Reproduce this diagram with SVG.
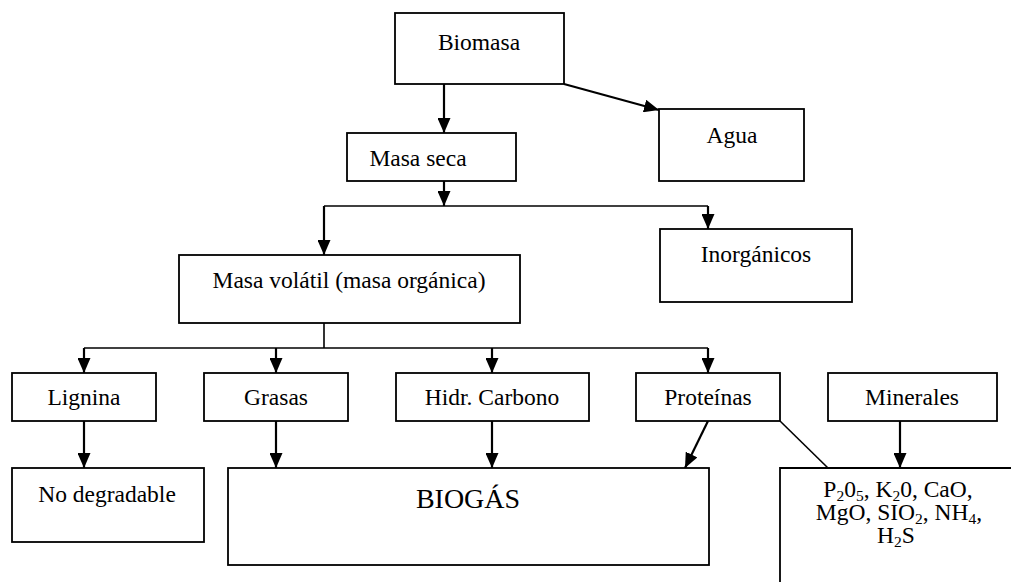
<svg xmlns="http://www.w3.org/2000/svg" width="1011" height="582" viewBox="0 0 1011 582">
<style>
.box{fill:#fff;stroke:#000;stroke-width:1.8}
.t{font-family:"Liberation Serif","Times New Roman",serif;font-size:23.5px;fill:#000;text-anchor:middle}
.big{font-size:28px}
.a{fill:none;stroke:#000;stroke-width:2.2;marker-end:url(#ah)}
.l{fill:none;stroke:#000;stroke-width:1.6}
.sub{font-size:15.5px}
</style>
<defs>
<marker id="ah" markerUnits="userSpaceOnUse" markerWidth="16" markerHeight="13" refX="15" refY="6.5" orient="auto">
<path d="M0,0 L15,6.5 L0,13 z" fill="#000"/>
</marker>
</defs>
<rect width="1011" height="582" fill="#fff"/>
<g id="connectors">
<line class="a" x1="444" y1="84" x2="444" y2="133"/>
<line class="a" x1="564" y1="84" x2="659" y2="110"/>
<line class="a" x1="444" y1="181" x2="444" y2="206"/>
<polyline class="l" points="324,206 708,206"/>
<line class="a" x1="324" y1="206" x2="324" y2="255"/>
<line class="a" x1="708" y1="206" x2="708" y2="229"/>
<line class="l" x1="324" y1="323" x2="324" y2="348"/>
<line class="l" x1="84" y1="348" x2="708" y2="348"/>
<line class="a" x1="84" y1="348" x2="84" y2="373"/>
<line class="a" x1="276" y1="348" x2="276" y2="373"/>
<line class="a" x1="492" y1="348" x2="492" y2="373"/>
<line class="a" x1="708" y1="348" x2="708" y2="373"/>
<line class="a" x1="84" y1="421" x2="84" y2="468"/>
<line class="a" x1="276" y1="421" x2="276" y2="468"/>
<line class="a" x1="492" y1="421" x2="492" y2="468"/>
<line class="a" x1="708" y1="421" x2="685" y2="468"/>
<line class="l" x1="780" y1="421" x2="828" y2="468"/>
<line class="a" x1="900" y1="421" x2="900" y2="468"/>
</g>
<g id="biomasa"><rect class="box" x="395" y="13" width="169" height="71"/><text class="t" x="479" y="50">Biomasa</text></g>
<g id="masa-seca"><rect class="box" x="347" y="133" width="169" height="48"/><text class="t" x="418" y="166">Masa seca</text></g>
<g id="agua"><rect class="box" x="659" y="109" width="145" height="72"/><text class="t" x="732" y="143">Agua</text></g>
<g id="masa-volatil"><rect class="box" x="179" y="255" width="341" height="68"/><text class="t" x="349" y="288">Masa volátil (masa orgánica)</text></g>
<g id="inorganicos"><rect class="box" x="660" y="229" width="192" height="73"/><text class="t" x="756" y="262">Inorgánicos</text></g>
<g id="lignina"><rect class="box" x="12" y="373" width="144" height="48"/><text class="t" x="84" y="405">Lignina</text></g>
<g id="grasas"><rect class="box" x="204" y="373" width="144" height="48"/><text class="t" x="276" y="405">Grasas</text></g>
<g id="hidr-carbono"><rect class="box" x="396" y="373" width="193" height="48"/><text class="t" x="492" y="405">Hidr. Carbono</text></g>
<g id="proteinas"><rect class="box" x="636" y="373" width="144" height="48"/><text class="t" x="708" y="405">Proteínas</text></g>
<g id="minerales"><rect class="box" x="828" y="373" width="169" height="48"/><text class="t" x="912" y="405">Minerales</text></g>
<g id="no-degradable"><rect class="box" x="12" y="468" width="192" height="74"/><text class="t" x="107" y="502">No degradable</text></g>
<g id="biogas"><rect class="box" x="228" y="468" width="481" height="97"/><text class="t big" x="468" y="508">BIOGÁS</text></g>
<g id="minerales-lista">
<path class="box" d="M1012,468 H780 V583" fill="#fff"/>
<text class="t" x="898" y="497">P<tspan class="sub" dy="4">2</tspan><tspan dy="-4">0</tspan><tspan class="sub" dy="4">5</tspan><tspan dy="-4">, K</tspan><tspan class="sub" dy="4">2</tspan><tspan dy="-4">0, CaO,</tspan></text>
<text class="t" x="899" y="520">MgO, SIO<tspan class="sub" dy="4">2</tspan><tspan dy="-4">, NH</tspan><tspan class="sub" dy="4">4</tspan><tspan dy="-4">,</tspan></text>
<text class="t" x="896" y="543">H<tspan class="sub" dy="4">2</tspan><tspan dy="-4">S</tspan></text>
</g>
</svg>
